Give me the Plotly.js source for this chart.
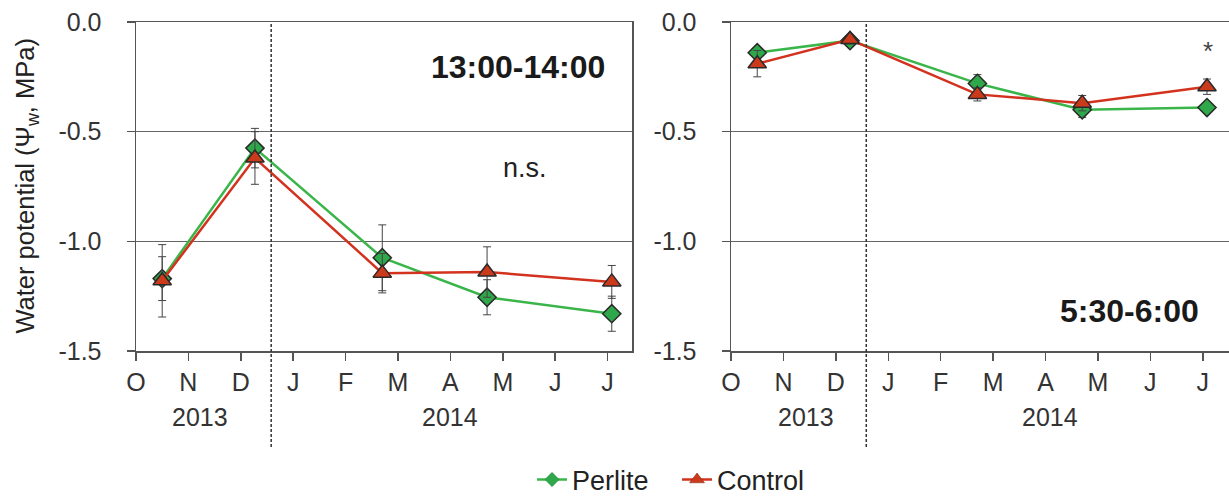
<!DOCTYPE html>
<html>
<head>
<meta charset="utf-8">
<script src="https://cdn.plot.ly/plotly-3.0.1.min.js"></script>
<style>html,body{margin:0;padding:0;background:#fff;}#chart{width:1229px;height:496px;}</style>
</head>
<body>
<div id="chart"></div>
<script>
// Sampling dates as month positions (0 = start of October 2013)
const samplePos = [0.5, 2.27, 4.7, 6.7, 9.08];
const monthTicks = [0, 1, 2, 3, 4, 5, 6, 7, 8, 9];
const monthLabels = ['O', 'N', 'D', 'J', 'F', 'M', 'A', 'M', 'J', 'J'];
const yTicks = [0, -0.5, -1.0, -1.5];
const yTickLabels = ['0.0', '-0.5', '-1.0', '-1.5'];
const yearBreak = 2.58;
const seriesNames = ['Perlite', 'Control'];

// 13:00-14:00 (midday)
const perliteMid = [-1.17, -0.575, -1.075, -1.255, -1.33];
const perliteMidErr = [0.10, 0.09, 0.15, 0.08, 0.08];
const controlMid = [-1.18, -0.62, -1.145, -1.14, -1.185];
const controlMidErr = [0.165, 0.12, 0.09, 0.115, 0.075];

// 5:30-6:00 (predawn)
const perliteDawn = [-0.14, -0.085, -0.28, -0.40, -0.39];
const perliteDawnErr = [0.01, 0.01, 0.04, 0.035, 0.01];
const controlDawn = [-0.19, -0.08, -0.33, -0.37, -0.295];
const controlDawnErr = [0.06, 0.02, 0.03, 0.035, 0.035];

const FONT = 'Liberation Sans, Arial, sans-serif';
const green = '#3ab54a', greenFill = '#2ea84a';
const red = '#d2321e', redFill = '#cc3a1c';
const outline = '#2a2a2a';

function series(name, x, y, err, xa, ya, isPerlite) {
  return {
    type: 'scatter', mode: 'lines+markers', name: name, x: x, y: y,
    xaxis: xa, yaxis: ya, showlegend: false, legendgroup: name,
    line: {color: isPerlite ? green : red, width: 2.5},
    marker: {
      symbol: isPerlite ? 'diamond' : 'triangle-up',
      size: isPerlite ? 14 : 16,
      color: isPerlite ? greenFill : redFill,
      line: {color: outline, width: 1.5}
    },
    error_y: {type: 'data', array: err, visible: true, color: '#444', thickness: 1, width: 4}
  };
}
function legendEntry(name, isPerlite) {
  return {
    type: 'scatter', mode: 'lines+markers', name: name, x: [null], y: [null],
    xaxis: 'x', yaxis: 'y', showlegend: true, legendgroup: name, hoverinfo: 'skip',
    line: {color: isPerlite ? green : red, width: 2.5},
    marker: {
      symbol: isPerlite ? 'diamond' : 'triangle-up',
      size: isPerlite ? 11 : 13,
      color: isPerlite ? greenFill : redFill,
      line: {color: isPerlite ? '#2a8a3a' : '#7a2010', width: 0.5}
    }
  };
}

const data = [
  series(seriesNames[0], samplePos, perliteMid, perliteMidErr, 'x', 'y', true),
  series(seriesNames[1], samplePos, controlMid, controlMidErr, 'x', 'y', false),
  series(seriesNames[0], samplePos, perliteDawn, perliteDawnErr, 'x2', 'y2', true),
  series(seriesNames[1], samplePos, controlDawn, controlDawnErr, 'x2', 'y2', false),
  legendEntry(seriesNames[0], true),
  legendEntry(seriesNames[1], false)
];

const xBase = {
  tickmode: 'array', tickvals: monthTicks, ticktext: monthLabels,
  ticks: 'outside', ticklen: 8, tickcolor: '#555', tickwidth: 1.5,
  showline: true, linecolor: '#555', linewidth: 1.5, mirror: true,
  showgrid: false, zeroline: false,
  tickfont: {family: FONT, size: 25, color: '#333'},
  ticklabelstandoff: 0, fixedrange: true
};
const yBase = {
  range: [-1.5, 0], tickmode: 'array', tickvals: yTicks, ticktext: yTickLabels,
  ticks: 'outside', ticklen: 8, tickcolor: '#555', tickwidth: 1.5,
  showline: true, linecolor: '#555', linewidth: 1.5,
  showgrid: true, gridcolor: '#666', gridwidth: 1, zeroline: false,
  tickfont: {family: FONT, size: 25, color: '#333'},
  ticklabelstandoff: 20, fixedrange: true
};

const yearFont = {family: FONT, size: 25, color: '#333'};
const layout = {
  width: 1229, height: 496,
  margin: {l: 136, r: 0, t: 22, b: 145, autoexpand: false},
  paper_bgcolor: '#fff', plot_bgcolor: '#fff',
  font: {family: FONT, color: '#222'},
  xaxis: Object.assign({}, xBase, {domain: [0, 0.4538], range: [0, 9.466], anchor: 'y'}),
  yaxis: Object.assign({}, yBase, {anchor: 'x', mirror: true}),
  xaxis2: Object.assign({}, xBase, {domain: [0.5444, 1], range: [0, 9.5], anchor: 'y2'}),
  yaxis2: Object.assign({}, yBase, {anchor: 'x2', mirror: false}),
  showlegend: true,
  legend: {
    orientation: 'h', x: 0.495, xanchor: 'center', y: -0.392, yanchor: 'middle',
    font: {family: FONT, size: 27, color: '#222'}, itemwidth: 30, tracegroupgap: 0,
    entrywidth: 100, entrywidthmode: 'pixels',
    bgcolor: 'rgba(0,0,0,0)'
  },
  shapes: [
    {type: 'line', xref: 'x', yref: 'paper', x0: yearBreak, x1: yearBreak, y0: -0.292, y1: 1,
     line: {color: '#333', width: 1.5, dash: '3px,2px'}},
    {type: 'line', xref: 'x2', yref: 'paper', x0: yearBreak, x1: yearBreak, y0: -0.292, y1: 1,
     line: {color: '#333', width: 1.5, dash: '3px,2px'}}
  ],
  annotations: [
    {xref: 'paper', yref: 'paper', x: -0.1006, y: 0.5, xanchor: 'center', yanchor: 'middle',
     textangle: -90, showarrow: false, text: 'Water potential (Ψ<sub>w</sub>, MPa)',
     font: {family: FONT, size: 25.5, color: '#222'}},
    {xref: 'x', yref: 'paper', x: 1.23, y: -0.2006, yanchor: 'middle', showarrow: false, text: '2013', font: yearFont},
    {xref: 'x', yref: 'paper', x: 6.0, y: -0.2006, yanchor: 'middle', showarrow: false, text: '2014', font: yearFont},
    {xref: 'x2', yref: 'paper', x: 1.43, y: -0.2006, yanchor: 'middle', showarrow: false, text: '2013', font: yearFont},
    {xref: 'x2', yref: 'paper', x: 6.08, y: -0.2006, yanchor: 'middle', showarrow: false, text: '2014', font: yearFont},
    {xref: 'x', yref: 'y', x: 7.29, y: -0.205, showarrow: false, text: '<b>13:00-14:00</b>',
     font: {family: FONT, size: 32, color: '#1a1a1a'}},
    {xref: 'x', yref: 'y', x: 7.42, y: -0.664, showarrow: false, text: 'n.s.',
     font: {family: FONT, size: 27, color: '#222'}},
    {xref: 'x2', yref: 'y2', x: 7.6, y: -1.318, showarrow: false, text: '<b>5:30-6:00</b>',
     font: {family: FONT, size: 32, color: '#1a1a1a'}},
    {xref: 'x2', yref: 'y2', x: 9.1, y: -0.13, showarrow: false, text: '*',
     font: {family: FONT, size: 26, color: '#444'}}
  ]
};

Plotly.newPlot('chart', data, layout, {staticPlot: true, displayModeBar: false});
</script>
</body>
</html>
